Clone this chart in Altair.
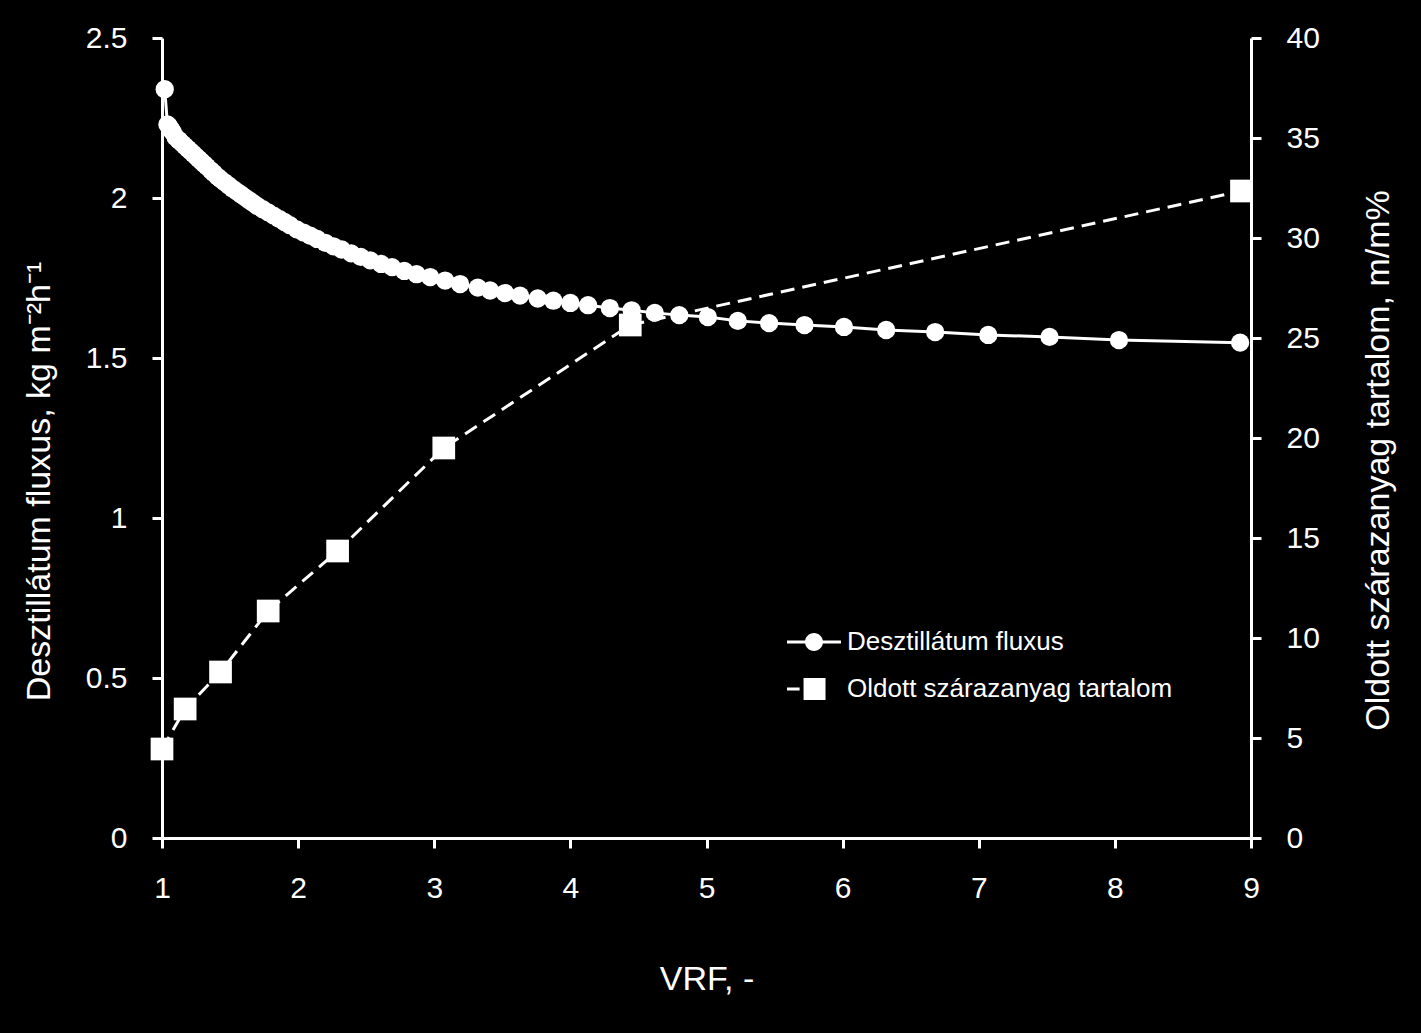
import altair as alt
import pandas as pd

series_names = ["Desztillátum fluxus", "Oldott szárazanyag tartalom"]

flux_vrf = [1.02, 1.04, 1.05, 1.06, 1.07, 1.08, 1.10, 1.12, 1.13, 1.15, 1.17,
            1.19, 1.21, 1.23, 1.25, 1.27, 1.29, 1.31, 1.33, 1.36, 1.38,
            1.41, 1.43, 1.46, 1.49, 1.52, 1.55, 1.58, 1.61, 1.64, 1.67,
            1.70, 1.74, 1.78, 1.82, 1.86, 1.90, 1.94, 1.99, 2.04, 2.09,
            2.14, 2.20, 2.26, 2.32, 2.39, 2.46, 2.53, 2.61, 2.69, 2.78,
            2.87, 2.97, 3.08, 3.19, 3.32, 3.41, 3.52, 3.63, 3.76, 3.875,
            4.00, 4.13, 4.29, 4.45, 4.62, 4.80, 5.01, 5.23, 5.46, 5.72,
            6.01, 6.32, 6.68, 7.07, 7.52, 8.03, 8.92]
flux_values = [2.34, 2.23, 2.225, 2.218, 2.212, 2.205, 2.19, 2.182, 2.178, 2.17, 2.162,
               2.154, 2.146, 2.138, 2.13, 2.122, 2.114, 2.106, 2.098, 2.086, 2.078,
               2.066, 2.059, 2.049, 2.039, 2.029, 2.02, 2.011, 2.002, 1.993, 1.984,
               1.975, 1.965, 1.955, 1.945, 1.935, 1.925, 1.915, 1.902, 1.892, 1.882,
               1.872, 1.86, 1.849, 1.839, 1.827, 1.816, 1.805, 1.794, 1.784, 1.772,
               1.762, 1.753, 1.742, 1.731, 1.72, 1.711, 1.703, 1.695, 1.686, 1.679,
               1.672, 1.665, 1.656, 1.649, 1.641, 1.634, 1.628, 1.616, 1.609, 1.603,
               1.597, 1.5875, 1.581, 1.572, 1.566, 1.556, 1.548]

solids_vrf = [1.0, 1.17, 1.43, 1.78, 2.29, 3.07, 4.44, 8.93]
solids_values = [4.45, 6.45, 8.3, 11.35, 14.35, 19.5, 25.65, 32.35]

x_ticks = [1, 2, 3, 4, 5, 6, 7, 8, 9]
left_ticks = [0, 0.5, 1, 1.5, 2, 2.5]
right_ticks = [0, 5, 10, 15, 20, 25, 30, 35, 40]

x_title = "VRF, -"
left_title = "Desztillátum fluxus, kg m\u207b\u00b2h\u207b\u00b9"
right_title = "Oldott szárazanyag tartalom, m/m%"

FONT = "Liberation Sans"

flux_df = pd.DataFrame({"VRF": flux_vrf, "flux": flux_values})
solids_df = pd.DataFrame({"VRF": solids_vrf, "solids": solids_values})
legend_df = pd.DataFrame({"series": series_names})

x_enc = alt.X(
    "VRF:Q",
    scale=alt.Scale(domain=[1, 9], nice=False, zero=False),
    axis=alt.Axis(values=x_ticks, title=x_title, labelFlush=False,
                  labelPadding=25, titleBaseline="alphabetic", titleY=151,
                  titleAnchor="middle"),
)

y_left = alt.Y(
    "flux:Q",
    scale=alt.Scale(domain=[0, 2.5], nice=False, zero=True),
    axis=alt.Axis(orient="left", values=left_ticks, format=".1~f", title=left_title,
                  labelPadding=25, titleAngle=270, titleAlign="center",
                  titleBaseline="alphabetic", titleX=-113, titleY=443),
)

y_right = alt.Y(
    "solids:Q",
    scale=alt.Scale(domain=[0, 40], nice=False, zero=True),
    axis=alt.Axis(orient="right", values=right_ticks, title=right_title,
                  labelPadding=25, titleAngle=270, titleAlign="center",
                  titleBaseline="alphabetic", titleX=137, titleY=422),
)

flux_line = alt.Chart(flux_df).mark_line(color="white", strokeWidth=3).encode(x=x_enc, y=y_left)
flux_pts = alt.Chart(flux_df).mark_circle(color="white", size=335, opacity=1).encode(x=x_enc, y=y_left)
left = alt.layer(flux_line, flux_pts)

# legend glyphs (filled outlines only): line with circle / dash with square
path_circle = ("M-1.5,-0.083L1.5,-0.083L1.5,0.083L-1.5,0.083Z"
               "M0.5,0A0.5,0.5,0,1,1,-0.5,0A0.5,0.5,0,1,1,0.5,0Z")
path_square = ("M-1.5,-0.083L-0.8,-0.083L-0.8,0.083L-1.5,0.083Z"
               "M-0.58,-0.61L0.64,-0.61L0.64,0.61L-0.58,0.61Z")

sol_line = alt.Chart(solids_df).mark_line(color="white", strokeWidth=3, strokeDash=[14, 8]).encode(x=x_enc, y=y_right)
sol_pts = alt.Chart(solids_df).mark_square(color="white", size=515, opacity=1).encode(x=x_enc, y=y_right)
legend_layer = alt.Chart(legend_df).mark_point(
    filled=True, fill="white", opacity=1
).encode(
    shape=alt.Shape(
        "series:N",
        scale=alt.Scale(domain=series_names, range=[path_circle, path_square]),
        legend=alt.Legend(
            title=None, orient="none", legendX=634, legendY=586,
            padding=0, rowPadding=16, symbolSize=1296, symbolStrokeWidth=0,
            symbolFillColor="white", symbolOpacity=1,
            labelFont=FONT, labelFontSize=26, labelColor="white",
            labelOffset=15, labelLimit=600,
        ),
    )
).transform_filter("false")
right = alt.layer(sol_line, sol_pts, legend_layer)

chart = alt.layer(left, right).resolve_scale(y="independent").properties(
    width=1089, height=800, background="black",
    padding={"left": 162, "top": 38, "right": 170, "bottom": 195},
    autosize=alt.AutoSizeParams(type="none"),
).configure_view(stroke=None).configure_axis(
    grid=False, domainColor="white", domainWidth=3, tickColor="white",
    tickWidth=3, tickSize=10, labelColor="white", labelFont=FONT,
    labelFontSize=30, titleColor="white", titleFont=FONT, titleFontSize=34,
    titleFontWeight="normal", labelOverlap=False,
)

chart.save("out.html", embed_options={"renderer": "svg", "actions": False})
